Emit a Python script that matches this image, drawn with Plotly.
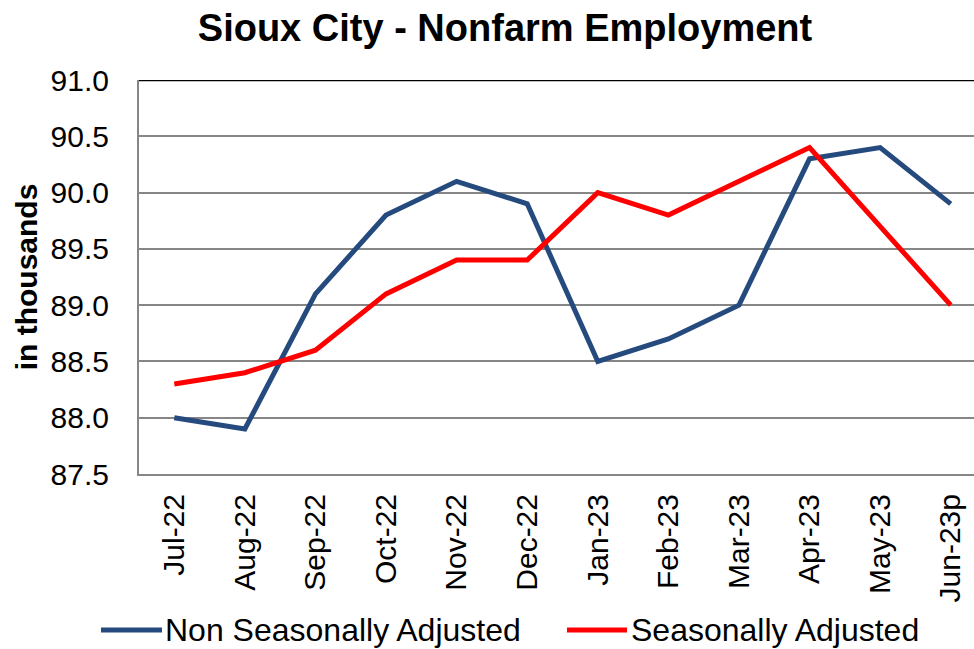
import plotly.graph_objects as go

months = ["Jul-22", "Aug-22", "Sep-22", "Oct-22", "Nov-22", "Dec-22",
          "Jan-23", "Feb-23", "Mar-23", "Apr-23", "May-23", "Jun-23p"]
nsa = [88.0, 87.9, 89.1, 89.8, 90.1, 89.9, 88.5, 88.7, 89.0, 90.3, 90.4, 89.9]
sa = [88.3, 88.4, 88.6, 89.1, 89.4, 89.4, 90.0, 89.8, 90.1, 90.4, 89.7, 89.0]
y_ticks = [87.5, 88.0, 88.5, 89.0, 89.5, 90.0, 90.5, 91.0]

NAVY = "#254A7E"
RED = "#FF0000"
FONT = "Liberation Sans, Arial, sans-serif"

fig = go.Figure()
fig.add_trace(go.Scatter(x=months, y=nsa, mode="lines", name="Non Seasonally Adjusted",
                         line=dict(color=NAVY, width=5), showlegend=False))
fig.add_trace(go.Scatter(x=months, y=sa, mode="lines", name="Seasonally Adjusted",
                         line=dict(color=RED, width=5), showlegend=False))

# top border line (black) at 91.0
fig.add_shape(type="line", xref="paper", yref="y", x0=0, x1=1, y0=91.0, y1=91.0,
              line=dict(color="black", width=2.5))

# manual legend (positions in paper units relative to plot area)
leg_y = (474 - 630) / 394
for (x0, x1, tx, color, label) in [((101 - 139) / 835, (162 - 139) / 835, (164 - 139) / 835, NAVY, "Non Seasonally Adjusted"),
                                   ((567 - 139) / 835, (627 - 139) / 835, (630 - 139) / 835, RED, "Seasonally Adjusted")]:
    fig.add_shape(type="line", xref="paper", yref="paper", x0=x0, x1=x1, y0=leg_y, y1=leg_y,
                  line=dict(color=color, width=5))
    fig.add_annotation(xref="paper", yref="paper", x=tx, y=leg_y, text=label, showarrow=False,
                       xanchor="left", yanchor="middle", borderpad=0,
                       font=dict(family=FONT, size=32, color="black"))

fig.update_layout(
    width=974, height=649,
    margin=dict(l=139, r=0, t=80, b=175, autoexpand=False),
    paper_bgcolor="white", plot_bgcolor="white",
    title=dict(text="<b>Sioux City - Nonfarm Employment</b>", x=505/974, xref="container",
               xanchor="center", y=1 - 28/649, yref="container", yanchor="middle",
               font=dict(family=FONT, size=38, color="black")),
    font=dict(family=FONT, color="black"),
)
fig.update_xaxes(
    type="category", range=[-0.5, 11.33], tickangle=-90, automargin=False,
    tickfont=dict(family=FONT, size=30, color="black"),
    showgrid=False, showline=True, linecolor="#868686", linewidth=2,
    ticks="", ticklabelstandoff=6,
)
fig.update_yaxes(
    range=[87.5, 91.0], tickvals=y_ticks, tickformat=".1f", automargin=False,
    tickfont=dict(family=FONT, size=30, color="black"),
    showgrid=True, gridcolor="#868686", gridwidth=2,
    showline=True, linecolor="#868686", linewidth=2,
    ticks="", ticklabelstandoff=22, zeroline=False,
    title=dict(text="<b>in thousands</b>", font=dict(family=FONT, size=30, color="black"), standoff=4),
)

fig.write_html("out.html", post_script="document.body.style.margin='0px';",
               config={"displayModeBar": False})
